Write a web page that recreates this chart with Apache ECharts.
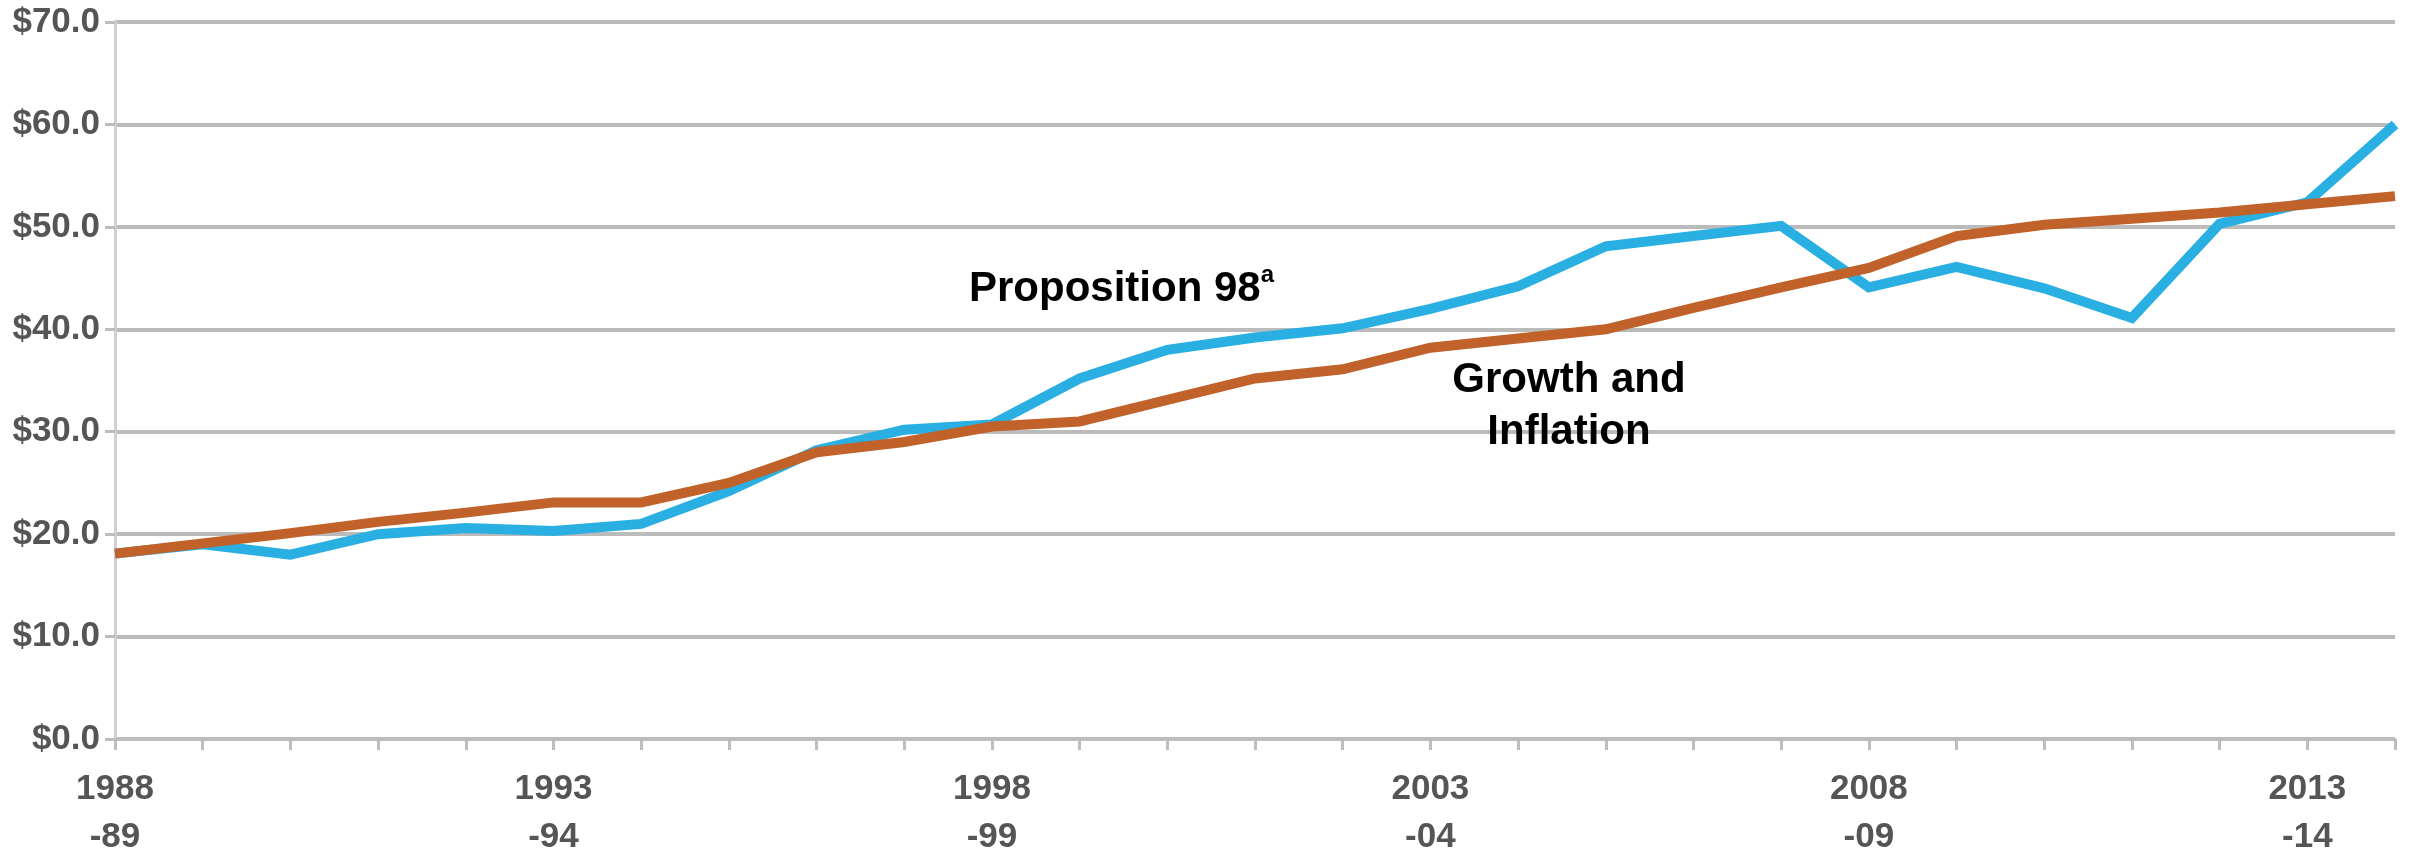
<!DOCTYPE html>
<html>
<head>
<meta charset="utf-8">
<script src="https://cdn.jsdelivr.net/npm/echarts@6/dist/echarts.min.js"></script>
<style>
html,body{margin:0;padding:0;background:#fff;}
#chart{width:2413px;height:861px;}
</style>
</head>
<body>
<div id="chart"></div>
<script>
var categories = ['1988-89','1989-90','1990-91','1991-92','1992-93','1993-94','1994-95','1995-96','1996-97','1997-98','1998-99','1999-00','2000-01','2001-02','2002-03','2003-04','2004-05','2005-06','2006-07','2007-08','2008-09','2009-10','2010-11','2011-12','2012-13','2013-14','2014-15'];
var prop98 = [18.1, 19.0, 18.0, 20.0, 20.6, 20.3, 21.0, 24.2, 28.2, 30.2, 30.7, 35.2, 38.0, 39.2, 40.1, 42.0, 44.2, 48.1, 49.1, 50.1, 44.1, 46.1, 44.0, 41.1, 50.3, 52.4, 60.0];
var growthInflation = [18.1, 19.1, 20.1, 21.2, 22.1, 23.1, 23.1, 25.0, 28.0, 29.0, 30.5, 31.0, 33.1, 35.2, 36.1, 38.2, 39.1, 40.0, 42.1, 44.1, 46.0, 49.1, 50.2, 50.8, 51.4, 52.2, 53.0];
var seriesNames = ['Proposition 98', 'Growth and Inflation'];
var yTicks = [0, 10, 20, 30, 40, 50, 60, 70];

var chart = echarts.init(document.getElementById('chart'));
var labelFont = '"Liberation Sans", Arial, sans-serif';
chart.setOption({
  animation: false,
  backgroundColor: '#ffffff',
  grid: { left: 115, right: 18, top: 22, bottom: 106, containLabel: false },
  xAxis: {
    type: 'category',
    boundaryGap: false,
    data: categories,
    axisLine: { show: true, lineStyle: { color: '#bdbdbd', width: 3 } },
    axisTick: { show: true, interval: 0, length: 11, lineStyle: { color: '#bdbdbd', width: 3 } },
    axisLabel: {
      interval: 4,
      margin: 26,
      color: '#555555',
      fontFamily: labelFont,
      fontWeight: 'bold',
      fontSize: 35,
      lineHeight: 48,
      formatter: function (v) { var p = v.split('-'); return p[0] + '\n-' + p[1]; }
    },
    splitLine: { show: false }
  },
  yAxis: {
    type: 'value',
    min: yTicks[0],
    max: yTicks[yTicks.length - 1],
    interval: 10,
    axisLine: { show: true, lineStyle: { color: '#d0d0d0', width: 3 } },
    axisTick: { show: true, length: 10, lineStyle: { color: '#bdbdbd', width: 3 } },
    axisLabel: {
      margin: 15,
      color: '#555555',
      fontFamily: labelFont,
      fontWeight: 'bold',
      fontSize: 35,
      formatter: function (v) { return '$' + v.toFixed(1); }
    },
    splitLine: { show: true, lineStyle: { color: '#bbbbbb', width: 4 } }
  },
  series: [
    {
      name: seriesNames[0],
      type: 'line',
      data: prop98,
      symbol: 'none',
      lineStyle: { color: '#2aafe3', width: 10, join: 'miter' },
      z: 2
    },
    {
      name: seriesNames[1],
      type: 'line',
      data: growthInflation,
      symbol: 'none',
      lineStyle: { color: '#c0622a', width: 10, join: 'miter' },
      z: 3
    }
  ],
  graphic: [
    {
      type: 'text',
      left: 969,
      top: 263,
      z: 10,
      style: {
        text: '{m|Proposition 98}{s|a}',
        rich: {
          m: { fontFamily: labelFont, fontWeight: 'bold', fontSize: 42, lineHeight: 52, fill: '#000' },
          s: { fontFamily: labelFont, fontWeight: 'bold', fontSize: 24, lineHeight: 24, verticalAlign: 'top', fill: '#000' }
        }
      }
    },
    {
      type: 'text',
      x: 1569,
      y: 354,
      z: 10,
      style: {
        text: 'Growth and\nInflation',
        align: 'center',
        verticalAlign: 'top',
        fontFamily: labelFont,
        fontWeight: 'bold',
        fontSize: 42,
        lineHeight: 52,
        fill: '#000'
      }
    }
  ]
});
</script>
</body>
</html>
